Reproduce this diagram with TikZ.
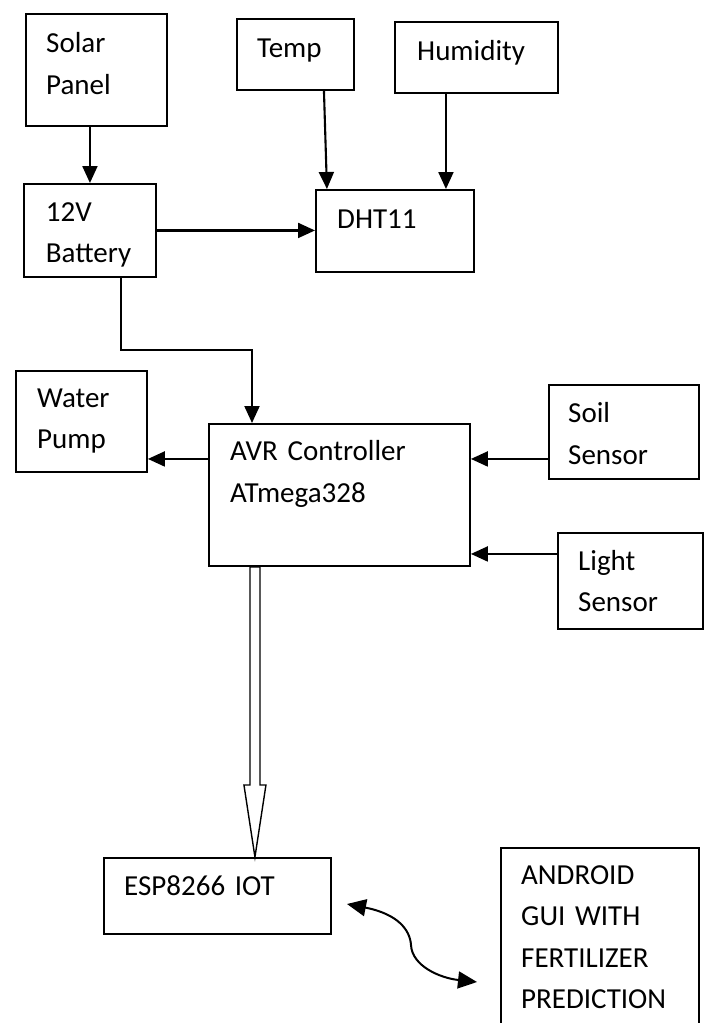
\documentclass[tikz,border=0pt]{standalone}
\usepackage{fontspec}
\setmainfont{Carlito}
\usetikzlibrary{arrows.meta,calc}

\begin{document}
\begin{tikzpicture}[x=1pt, y=-1pt, >={Triangle[length=17pt,width=15pt]},
    every node/.style={font=\fontsize{29}{41.5}\selectfont},
    blk/.style={draw, line width=1.9pt, inner sep=0pt, anchor=north west},
    lbl/.style={anchor=base west, inner sep=0pt, text width=190pt, align=left},
    arr/.style={->, line width=2.1pt}]

    \useasboundingbox (0,0) rectangle (705,1023);

    % Blöcke
    \node[blk, minimum width=141pt, minimum height=112pt] (solar) at (25,13) {};
    \node[blk, minimum width=117pt, minimum height=71pt] (temp) at (236,18) {};
    \node[blk, minimum width=163pt, minimum height=71pt] (humid) at (394,21) {};
    \node[blk, minimum width=132pt, minimum height=93pt] (batt) at (23,183) {};
    \node[blk, minimum width=158pt, minimum height=82pt] (dht) at (315,189) {};
    \node[blk, minimum width=131pt, minimum height=101pt] (pump) at (15,370) {};
    \node[blk, minimum width=261pt, minimum height=142pt] (avr) at (208,423) {};
    \node[blk, minimum width=150pt, minimum height=94pt] (soil) at (548,384) {};
    \node[blk, minimum width=145pt, minimum height=96pt] (light) at (557,532) {};
    \node[blk, minimum width=227pt, minimum height=76pt] (esp) at (103,857) {};
    \node[blk, minimum width=198pt, minimum height=200pt] (andr) at (500,847) {};

    % Beschriftungen
    \node[lbl] (solarT) at (46,52.7) {Solar\\Panel};
    \node[lbl] (tempT) at (257,57.3) {Temp};
    \node[lbl] (humidT) at (417,60) {Humidity};
    \node[lbl] (battT) at (45.7,221) {12V\\Battery};
    \node[lbl] (dhtT) at (337,228) {DHT11};
    \node[lbl] (pumpT) at (37,407.3) {Water\\Pump};
    \node[lbl] (avrT) at (230,460.7) {AVR Controller\\ATmega328};
    \node[lbl] (soilT) at (568,422.7) {Soil\\Sensor};
    \node[lbl] (lightT) at (578,570) {Light\\Sensor};
    \node[lbl] (espT) at (124,895) {ESP8266 IOT};
    \node[lbl] (andrT) at (521,884) {ANDROID\\GUI WITH\\FERTILIZER\\PREDICTION};

    % Stromversorgung und Sensoren
    \draw[arr] (solar.south -| batt.north) -- (batt.north);
    \draw[arr] ([xshift=28.5pt]temp.south) -- ([xshift=-68pt]dht.north);
    \draw[arr] ([xshift=-30.5pt]humid.south) -- ([xshift=-30.5pt]humid.south |- dht.north);
    \draw[arr] (batt.east) -- (batt.east -| dht.west);
    \coordinate (bend) at (252,350);
    \draw[arr] ([xshift=31pt]batt.south) |- (bend) -- (bend |- avr.north);

    % Controller
    \draw[arr] ([yshift=36pt]avr.west) -- ([yshift=36pt]avr.west -| pump.east);
    \draw[arr] ([yshift=36pt]avr.east -| soil.west) -- ([yshift=36pt]avr.east);
    \draw[arr] ([yshift=27pt]light.west) -- ([yshift=27pt]light.west -| avr.east);

    % Datenbus zum ESP8266 (Hohlpfeil)
    \coordinate (bus) at ([xshift=-84.5pt]avr.south);
    \coordinate (busEnd) at (bus |- esp.north);
    \draw[line width=1.4pt, fill=white, line join=miter]
        ($(bus)+(-5,0)$) -- ($(busEnd)+(-5,-72)$) -- ($(busEnd)+(-11,-72)$)
        -- (busEnd) -- ($(busEnd)+(11,-72)$) -- ($(busEnd)+(5,-72)$)
        -- ($(bus)+(5,0)$) -- cycle;

    % Funkverbindung
    \coordinate (lnkA) at (347,904);
    \coordinate (lnkM) at (411,945);
    \coordinate (lnkB) at (477,982);
    \draw[{Triangle[length=19pt,width=17pt]}-{Triangle[length=19pt,width=17pt]}, line width=2pt]
        (lnkA) .. controls (398,914) and (410,930) .. (lnkM)
        .. controls (412,966) and (440,978) .. (lnkB);

\end{tikzpicture}
\end{document}
